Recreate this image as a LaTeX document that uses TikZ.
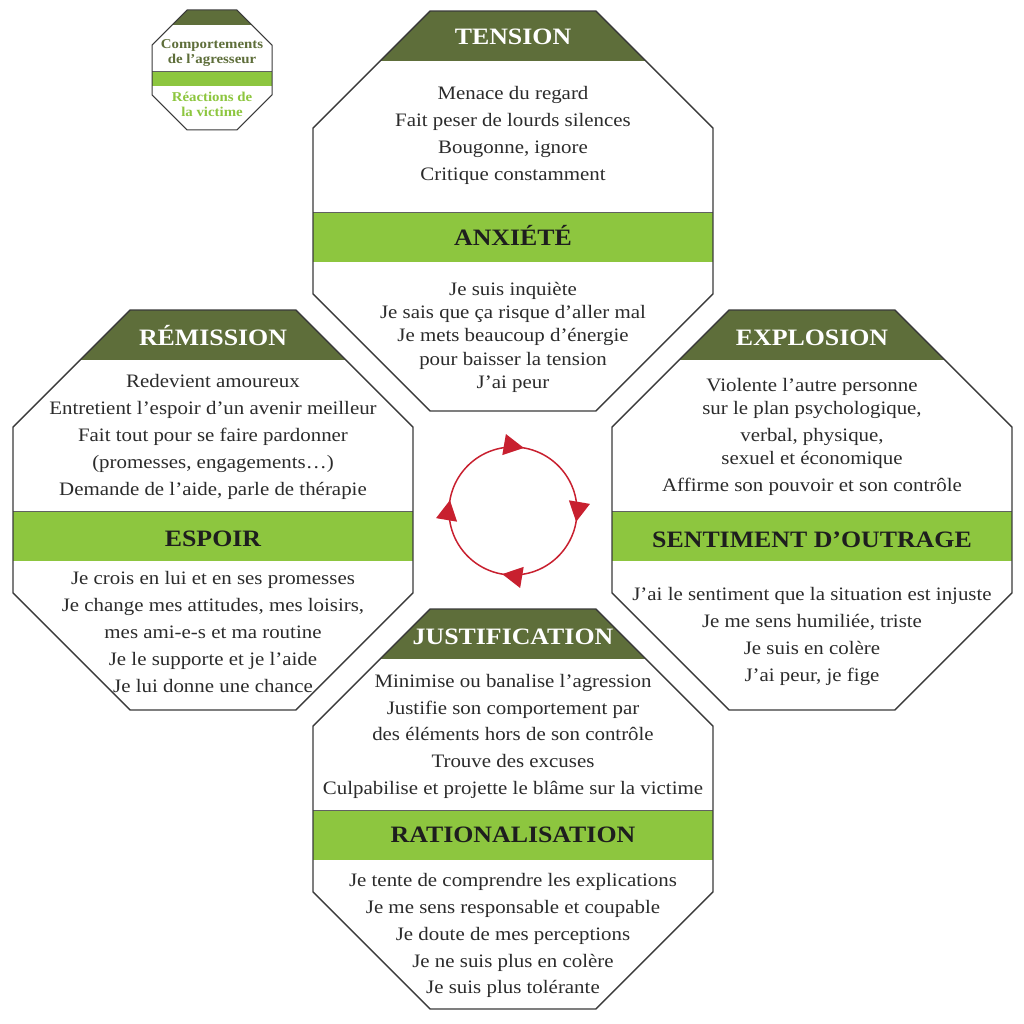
\documentclass[tikz,border=0pt]{standalone}
\usepackage{fontspec}
\setmainfont{Liberation Serif}[FakeStretch=1.1]
\usetikzlibrary{arrows.meta,decorations.markings}
\definecolor{darkband}{HTML}{5E6E3A}
\definecolor{lightband}{HTML}{8DC63F}
\definecolor{bodygray}{HTML}{2B2B2B}
\definecolor{headdark}{HTML}{1E1E1E}
\definecolor{cyclered}{HTML}{C8202F}
\definecolor{edgegray}{HTML}{3A3A3A}
\tikzset{
  body/.style={font=\fontsize{19}{22}\selectfont, text=bodygray, inner sep=0pt, anchor=base},
  headw/.style={font=\fontsize{23.5}{26}\selectfont\bfseries, text=white, inner sep=0pt, anchor=base},
  headk/.style={font=\fontsize{23.5}{26}\selectfont\bfseries, text=headdark, inner sep=0pt, anchor=base},
  legdark/.style={font=\fontsize{13.5}{15}\selectfont\bfseries, text=darkband, inner sep=0pt, anchor=base},
  leglight/.style={font=\fontsize{13.5}{15}\selectfont\bfseries, text=lightband, inner sep=0pt, anchor=base},
  octline/.style={draw=edgegray, line width=1.4pt, line join=miter},
  bandedge/.style={draw=edgegray!80, line width=0.9pt},
  cyctip/.tip={Triangle[length=20pt,width=21pt]},
}
% #1 cx, #2 cy, #3 half size, #4 band height, #5 line width
\newcommand\octbox[5]{%
  \begin{scope}
    \clip ({#1-0.4142*#3},{#2-#3}) -- ({#1+0.4142*#3},{#2-#3}) -- ({#1+#3},{#2-0.4142*#3}) -- ({#1+#3},{#2+0.4142*#3}) -- ({#1+0.4142*#3},{#2+#3}) -- ({#1-0.4142*#3},{#2+#3}) -- ({#1-#3},{#2+0.4142*#3}) -- ({#1-#3},{#2-0.4142*#3}) -- cycle;
    \fill[white] ({#1-#3},{#2-#3}) rectangle ({#1+#3},{#2+#3});
    \fill[darkband] ({#1-#3},{#2-#3}) rectangle ({#1+#3},{#2-#3+#4});
    \fill[lightband] ({#1-#3},{#2+1}) rectangle ({#1+#3},{#2+#4+1});
    \draw[bandedge, line width=#5*0.6pt] ({#1-#3},{#2+1}) -- ({#1+#3},{#2+1});
  \end{scope}
  \draw[octline, line width=#5pt] ({#1-0.4142*#3},{#2-#3}) -- ({#1+0.4142*#3},{#2-#3}) -- ({#1+#3},{#2-0.4142*#3}) -- ({#1+#3},{#2+0.4142*#3}) -- ({#1+0.4142*#3},{#2+#3}) -- ({#1-0.4142*#3},{#2+#3}) -- ({#1-#3},{#2+0.4142*#3}) -- ({#1-#3},{#2-0.4142*#3}) -- cycle;
}
\begin{document}
\begin{tikzpicture}[x=1pt, y=-1pt]
\useasboundingbox (0,0) rectangle (1024,1024);

% legend
\octbox{212}{70}{60}{15}{1}
\node[legdark] (lg1) at (212,49) {Comportements};
\node[legdark] (lg2) at (212,64) {de l’agresseur};
\node[leglight] (lg3) at (212,102) {Réactions de};
\node[leglight] (lg4) at (212,117) {la victime};

% octagons
\octbox{513}{211}{200}{50}{1.4}
\octbox{213}{510}{200}{50}{1.4}
\octbox{812}{510}{200}{50}{1.4}
\octbox{513}{809}{200}{50}{1.4}

% top: tension / anxiete
\node[headw] (hT) at (513,45) {TENSION};
\node[body] (t1) at (513,100) {Menace du regard};
\node[body] (t2) at (513,127) {Fait peser de lourds silences};
\node[body] (t3) at (513,154) {Bougonne, ignore};
\node[body] (t4) at (513,181) {Critique constamment};
\node[headk] (hA) at (513,245) {ANXIÉTÉ};
\node[body] (a1) at (513,295) {Je suis inquiète};
\node[body] (a2) at (513,318) {Je sais que ça risque d’aller mal};
\node[body] (a3) at (513,341.5) {Je mets beaucoup d’énergie};
\node[body] (a4) at (513,365) {pour baisser la tension};
\node[body] (a5) at (513,388) {J’ai peur};

% left: remission / espoir
\node[headw] (hR) at (213,345) {RÉMISSION};
\node[body] (r1) at (213,387) {Redevient amoureux};
\node[body] (r2) at (213,414) {Entretient l’espoir d’un avenir meilleur};
\node[body] (r3) at (213,441) {Fait tout pour se faire pardonner};
\node[body] (r4) at (213,468) {(promesses, engagements…)};
\node[body] (r5) at (213,495) {Demande de l’aide, parle de thérapie};
\node[headk] (hE) at (213,546) {ESPOIR};
\node[body] (e1) at (213,584) {Je crois en lui et en ses promesses};
\node[body] (e2) at (213,611) {Je change mes attitudes, mes loisirs,};
\node[body] (e3) at (213,638) {mes ami-e-s et ma routine};
\node[body] (e4) at (213,665) {Je le supporte et je l’aide};
\node[body] (e5) at (213,692) {Je lui donne une chance};

% right: explosion / outrage
\node[headw] (hX) at (812,345) {EXPLOSION};
\node[body] (x1) at (812,391) {Violente l’autre personne};
\node[body] (x2) at (812,414) {sur le plan psychologique,};
\node[body] (x3) at (812,441) {verbal, physique,};
\node[body] (x4) at (812,464) {sexuel et économique};
\node[body] (x5) at (812,491) {Affirme son pouvoir et son contrôle};
\node[headk] (hO) at (812,547) {SENTIMENT D’OUTRAGE};
\node[body] (o1) at (812,600) {J’ai le sentiment que la situation est injuste};
\node[body] (o2) at (812,627) {Je me sens humiliée, triste};
\node[body] (o3) at (812,654) {Je suis en colère};
\node[body] (o4) at (812,681) {J’ai peur, je fige};

% bottom: justification / rationalisation
\node[headw] (hJ) at (513,644) {JUSTIFICATION};
\node[body] (j1) at (513,687) {Minimise ou banalise l’agression};
\node[body] (j2) at (513,714) {Justifie son comportement par};
\node[body] (j3) at (513,740) {des éléments hors de son contrôle};
\node[body] (j4) at (513,767) {Trouve des excuses};
\node[body] (j5) at (513,794) {Culpabilise et projette le blâme sur la victime};
\node[headk] (hRa) at (513,842) {RATIONALISATION};
\node[body] (q1) at (513,886) {Je tente de comprendre les explications};
\node[body] (q2) at (513,913) {Je me sens responsable et coupable};
\node[body] (q3) at (513,940) {Je doute de mes perceptions};
\node[body] (q4) at (513,967) {Je ne suis plus en colère};
\node[body] (q5) at (513,993) {Je suis plus tolérante};

% cycle
\coordinate (cyc) at (513,511);
\draw[cyclered, line width=1.5pt, postaction={decorate}, decoration={markings,
  mark=at position 0.027 with {\arrow{cyctip}},
  mark=at position 0.277 with {\arrow{cyctip}},
  mark=at position 0.527 with {\arrow{cyctip}},
  mark=at position 0.777 with {\arrow{cyctip}}}]
  (cyc) circle[radius=64];
\end{tikzpicture}
\end{document}
